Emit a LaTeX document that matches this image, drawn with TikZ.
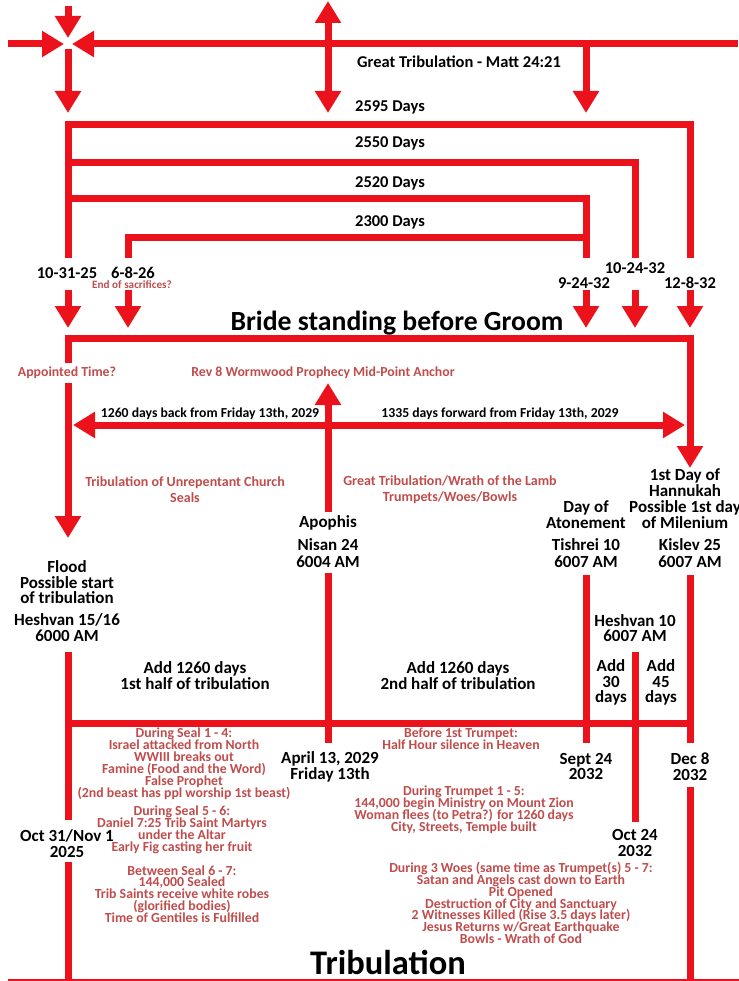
\documentclass[tikz,border=0pt]{standalone}
\usepackage{fontspec}
\setmainfont{Carlito}
\usetikzlibrary{arrows.meta}
\definecolor{tred}{RGB}{236,18,28}
\definecolor{ttxt}{RGB}{192,76,76}
\newcommand\lblf{\fontsize{17}{15.5}\selectfont\bfseries}
\newcommand\midf{\fontsize{16.5}{15}\selectfont\bfseries}
\newcommand\smf{\fontsize{13.7}{13}\selectfont\bfseries}
\newcommand\redf{\fontsize{13.8}{11.9}\selectfont\bfseries}
\newcommand\tinyredf{\fontsize{11.2}{11}\selectfont\bfseries}
\tikzset{
  rl/.style={draw=tred, line width=7pt},
  ar/.style={rl, -{Triangle[width=25pt,length=22pt]}},
  dar/.style={rl, {Triangle[width=25pt,length=22pt]}-{Triangle[width=25pt,length=22pt]}},
  lbl/.style={font=\lblf, align=center, inner sep=0pt, text=black},
  mlbl/.style={font=\midf, align=center, inner sep=0pt, text=black},
  slbl/.style={font=\smf, align=center, inner sep=0pt, text=black},
  rtx/.style={font=\redf, align=center, inner sep=0pt, text=ttxt},
  big/.style={font=\fontsize{27.7}{28}\selectfont\bfseries, inner sep=0pt, text=black},
}
\begin{document}
\lineskiplimit=-30pt
\lineskip=0pt
\begin{tikzpicture}[x=1pt,y=-1pt]
\useasboundingbox (0,0) rectangle (738,981);
% ---------- coordinates ----------
\coordinate (cL) at (8,44);   \coordinate (cLt) at (64,44);
\coordinate (cR) at (738,44); \coordinate (cRt) at (72,44);
\coordinate (cT) at (68,6);   \coordinate (cTt) at (68,38);
\coordinate (cB) at (68,49);  \coordinate (cBt) at (68,113);
\coordinate (a1t) at (328,1); \coordinate (a1b) at (328,113);
\coordinate (a2s) at (586,44);\coordinate (a2t) at (586,113);
\coordinate (L258) at (68,258);
\coordinate (L125) at (68,125); \coordinate (R125) at (690,125); \coordinate (R258) at (690,258);
\coordinate (L163) at (68,163); \coordinate (R163) at (635,163); \coordinate (M258) at (635,258);
\coordinate (L199) at (68,199); \coordinate (R199) at (586,199); \coordinate (S258) at (586,258);
\coordinate (X258) at (128,258); \coordinate (X238) at (128,238); \coordinate (R238) at (586,238);
% down arrows
\coordinate (d1s) at (68,290);  \coordinate (d1t) at (68,328);
\coordinate (d2s) at (128,290); \coordinate (d2t) at (128,328);
\coordinate (d3s) at (586,290); \coordinate (d3t) at (586,328);
\coordinate (d4s) at (635,290); \coordinate (d4t) at (635,328);
\coordinate (d5s) at (690,290); \coordinate (d5t) at (690,328);
% bride line
\coordinate (bL) at (68,363); \coordinate (bLc) at (68,338); \coordinate (bRc) at (690,338); \coordinate (bRt) at (690,468);
\coordinate (fS) at (68,383); \coordinate (fT) at (68,538);
\coordinate (uS) at (328,512); \coordinate (uT) at (328,383);
\coordinate (hL) at (73,425); \coordinate (hR) at (685,425);
% lower part
\coordinate (l1s) at (68,652); \coordinate (l1e) at (68,820);
\coordinate (hzL) at (68,723); \coordinate (hzR) at (690,723);
\coordinate (v1s) at (328,573); \coordinate (v1e) at (328,743);
\coordinate (v2s) at (586,575); \coordinate (v2e) at (586,743);
\coordinate (v3s) at (690,575); \coordinate (v3e) at (690,743);
\coordinate (v4s) at (635,652); \coordinate (v4e) at (635,822);
\coordinate (l2s) at (68,862); \coordinate (l2e) at (68,990);
\coordinate (v5s) at (690,787); \coordinate (v5e) at (690,990);
\coordinate (btL) at (8,982); \coordinate (btR) at (740,982);
% ---------- lines ----------
\draw[ar] (cL) -- (cLt);
\draw[ar] (cR) -- (cRt);
\draw[ar] (cT) -- (cTt);
\draw[ar] (cB) -- (cBt);
\draw[dar] (a1t) -- (a1b);
\draw[ar] (a2s) -- (a2t);
\draw[rl] (L258) -- (L125) -- (R125) -- (R258);
\draw[rl] (L163) -- (R163) -- (M258);
\draw[rl] (L199) -- (R199) -- (S258);
\draw[rl] (X258) -- (X238) -- (R238);
\foreach \i in {1,...,5} {\draw[ar] (d\i s) -- (d\i t);}
\draw[ar] (bL) -- (bLc) -- (bRc) -- (bRt);
\draw[ar] (fS) -- (fT);
\draw[ar] (uS) -- (uT);
\draw[dar] (hL) -- (hR);
\draw[rl] (l1s) -- (l1e);
\draw[rl] (hzL) -- (hzR);
\draw[rl] (v1s) -- (v1e);
\draw[rl] (v2s) -- (v2e);
\draw[rl] (v3s) -- (v3e);
\draw[rl] (v4s) -- (v4e);
\draw[rl] (l2s) -- (l2e);
\draw[rl] (v5s) -- (v5e);
\draw[rl] (btL) -- (btR);
% ---------- texts ----------
\node[mlbl] (gt) at (459,62) {Great Tribulation - Matt 24:21};
\node[mlbl] (d2595) at (390,107) {2595 Days};
\node[mlbl] (d2550) at (390,143) {2550 Days};
\node[mlbl] (d2520) at (390,183) {2520 Days};
\node[mlbl] (d2300) at (390,222) {2300 Days};
\node[mlbl] (dt1) at (67,273) {10-31-25};
\node[mlbl] (dt2) at (133,273) {6-8-26};
\node[font=\tinyredf, text=ttxt, inner sep=0pt] (eos) at (132,285) {End of sacrifices?};
\node[mlbl] (dt3) at (584,283) {9-24-32};
\node[mlbl] (dt4) at (635,268) {10-24-32};
\node[mlbl] (dt5) at (690,283) {12-8-32};
\node[big] (bride) at (397,323) {Bride standing before Groom};
\node[rtx] (appt) at (67,373) {Appointed Time?};
\node[rtx] (rev8) at (323,373) {Rev 8 Wormwood Prophecy Mid-Point Anchor};
\node[slbl] (back) at (210,414) {1260 days back from Friday 13th, 2029};
\node[slbl] (fwd) at (500,414) {1335 days forward from Friday 13th, 2029};
\node[rtx, font=\fontsize{14}{16}\selectfont\bfseries] (tuc) at (185,490) {Tribulation of Unrepentant Church\\Seals};
\node[rtx, font=\fontsize{14}{16}\selectfont\bfseries] (gtw) at (450,490) {Great Tribulation/Wrath of the Lamb\\Trumpets/Woes/Bowls};
\node[lbl, font=\fontsize{17}{16}\selectfont\bfseries] (hann) at (685,499) {1st Day of\\Hannukah\\Possible 1st day\\of Milenium};
\node[lbl, font=\fontsize{17}{16}\selectfont\bfseries] (atone) at (586,515) {Day of\\Atonement};
\node[lbl, font=\fontsize{17}{17}\selectfont\bfseries] (tish) at (586,553.5) {Tishrei 10\\6007 AM};
\node[lbl, font=\fontsize{17}{17}\selectfont\bfseries] (kis) at (690,553.5) {Kislev 25\\6007 AM};
\node[lbl] (apo) at (328,523) {Apophis};
\node[lbl, font=\fontsize{17}{17}\selectfont\bfseries] (nis) at (328,553.5) {Nisan 24\\6004 AM};
\node[lbl] (flood) at (67,582.5) {Flood\\Possible start\\of tribulation};
\node[lbl] (hesh) at (67,627.5) {Heshvan 15/16\\6000 AM};
\node[lbl] (hesh10) at (635,628) {Heshvan 10\\6007 AM};
\node[lbl] (add1) at (195,675.5) {Add 1260 days\\1st half of tribulation};
\node[lbl] (add2) at (458,675.5) {Add 1260 days\\2nd half of tribulation};
\node[lbl] (add30) at (611,682.5) {Add\\30\\days};
\node[lbl] (add45) at (661,682.5) {Add\\45\\days};
\node[rtx] (bft) at (461,739) {Before 1st Trumpet:\\Half Hour silence in Heaven};
\node[rtx] (seal14) at (184,763.5) {During Seal 1 - 4:\\Israel attacked from North\\WWIII breaks out\\Famine (Food and the Word)\\False Prophet\\(2nd beast has ppl worship 1st beast)};
\node[lbl] (apr) at (330,767) {April 13, 2029\\Friday 13th};
\node[lbl] (sept) at (586,766.5) {Sept 24\\2032};
\node[lbl] (dec) at (690,766.5) {Dec 8\\2032};
\node[rtx] (tr15) at (464,810) {During Trumpet 1 - 5:\\144,000 begin Ministry on Mount Zion\\Woman flees (to Petra?) for 1260 days\\City, Streets, Temple built};
\node[lbl] (oct25) at (67,843.5) {Oct 31/Nov 1\\2025};
\node[lbl] (oct24) at (635,843) {Oct 24\\2032};
\node[rtx] (seal56) at (182,830) {During Seal 5 - 6:\\Daniel 7:25 Trib Saint Martyrs\\under the Altar\\Early Fig casting her fruit};
\node[rtx] (seal67) at (182,894) {Between Seal 6 - 7:\\144,000 Sealed\\Trib Saints receive white robes\\(glorified bodies)\\Time of Gentiles is Fulfilled};
\node[rtx] (woes) at (521,903) {During 3 Woes (same time as Trumpet(s) 5 - 7:\\Satan and Angels cast down to Earth\\Pit Opened\\Destruction of City and Sanctuary\\2 Witnesses Killed (Rise 3.5 days later)\\Jesus Returns w/Great Earthquake\\Bowls - Wrath of God};
\node[big, font=\fontsize{34.5}{34}\selectfont\bfseries] (trib) at (388,962) {Tribulation};
\end{tikzpicture}
\end{document}
